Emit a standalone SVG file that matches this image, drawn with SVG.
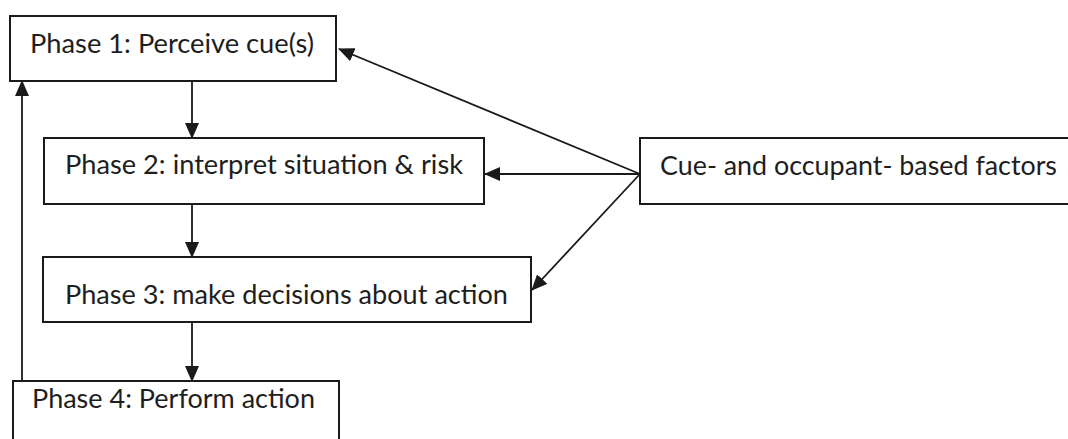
<svg xmlns="http://www.w3.org/2000/svg" width="1068" height="439" viewBox="0 0 1068 439">
<style>
.box{fill:#fff;stroke:#1a1a1a;stroke-width:2}
.lbl{font-family:Lato,"Open Sans","Liberation Sans",sans-serif;font-size:26.5px;fill:#1e1e1e}
.con{stroke:#1a1a1a;stroke-width:1.8;fill:none;marker-end:url(#ah)}
</style>
<defs>
<marker id="ah" markerUnits="userSpaceOnUse" markerWidth="16" markerHeight="14" viewBox="0 0 16 14" refX="15" refY="7" orient="auto">
<path d="M0,0 L16,7 L0,14 Z" fill="#1a1a1a"/>
</marker>
</defs>
<rect width="1068" height="439" fill="#fff"/>
<g id="connectors">
<line class="con" x1="192" y1="81" x2="192" y2="138"/>
<line class="con" x1="192" y1="204" x2="192" y2="257"/>
<line class="con" x1="192" y1="322" x2="192" y2="381"/>
<line class="con" x1="22" y1="381" x2="22" y2="81"/>
<line class="con" x1="640" y1="174" x2="339" y2="49"/>
<line class="con" x1="640" y1="174" x2="485" y2="174"/>
<line class="con" x1="640" y1="174" x2="532" y2="290"/>
</g>
<g id="phase1">
<rect class="box" x="10" y="16" width="326" height="65"/>
<text class="lbl" x="30" y="53" textLength="284" lengthAdjust="spacingAndGlyphs">Phase 1: Perceive cue(s)</text>
</g>
<g id="phase2">
<rect class="box" x="44" y="138" width="440" height="66"/>
<text class="lbl" x="65" y="174" textLength="398" lengthAdjust="spacingAndGlyphs">Phase 2: interpret situation &amp; risk</text>
</g>
<g id="phase3">
<rect class="box" x="43" y="257" width="488" height="65"/>
<text class="lbl" x="65" y="304" textLength="443" lengthAdjust="spacingAndGlyphs">Phase 3: make decisions about action</text>
</g>
<g id="phase4">
<rect class="box" x="13" y="381" width="326" height="70"/>
<text class="lbl" x="32" y="408" textLength="283" lengthAdjust="spacingAndGlyphs">Phase 4: Perform action</text>
</g>
<g id="factors">
<rect class="box" x="640" y="138" width="440" height="66"/>
<text class="lbl" x="660" y="175" textLength="397" lengthAdjust="spacingAndGlyphs">Cue- and occupant- based factors</text>
</g>
</svg>
